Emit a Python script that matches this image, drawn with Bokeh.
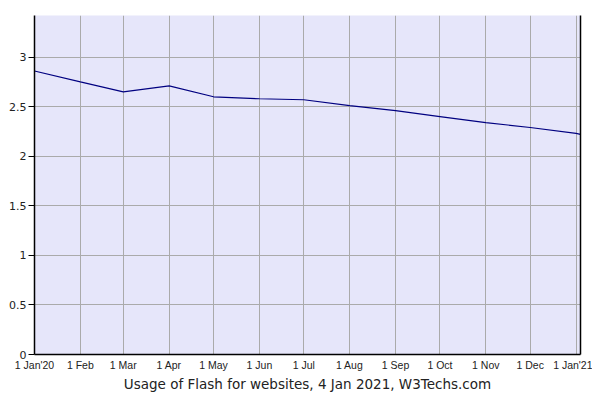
from datetime import datetime
from bokeh.plotting import figure
from bokeh.models import FixedTicker, LinearAxis, Range1d, ColumnDataSource, Title
from bokeh.embed import file_html
from bokeh.resources import INLINE

dates = ["2020-01-01", "2020-02-01", "2020-03-01", "2020-04-01", "2020-05-01",
         "2020-06-01", "2020-07-01", "2020-08-01", "2020-09-01", "2020-10-01",
         "2020-11-01", "2020-12-01", "2021-01-01", "2021-01-04"]
usage = [2.86, 2.75, 2.65, 2.71, 2.60, 2.58, 2.57, 2.51, 2.46, 2.40,
         2.34, 2.29, 2.23, 2.22]
tick_dates = ["2020-01-01", "2020-02-01", "2020-03-01", "2020-04-01", "2020-05-01",
              "2020-06-01", "2020-07-01", "2020-08-01", "2020-09-01", "2020-10-01",
              "2020-11-01", "2020-12-01", "2021-01-01"]
tick_labels = ["1 Jan'20", "1 Feb", "1 Mar", "1 Apr", "1 May", "1 Jun", "1 Jul",
               "1 Aug", "1 Sep", "1 Oct", "1 Nov", "1 Dec", "1 Jan'21"]
y_ticks = [0, 0.5, 1, 1.5, 2, 2.5, 3]
y_labels = ["0", "0.5", "1", "1.5", "2", "2.5", "3"]
title_text = "Usage of Flash for websites, 4 Jan 2021, W3Techs.com"


def ms(s):
    return datetime.strptime(s, "%Y-%m-%d").timestamp() * 1000.0


xs = [ms(d) for d in dates]
xt = [ms(d) for d in tick_dates]
x0, x1 = ms("2020-01-01"), ms("2021-01-04")
y0, y1 = 0, 3.42

src = ColumnDataSource(dict(x=xs, y=usage))

p = figure(width=592, height=392, output_backend="svg", toolbar_location=None,
           x_range=Range1d(x0, x1), y_range=Range1d(y0, y1),
           min_border_left=34, min_border_right=12, min_border_top=15,
           min_border_bottom=38)
p.background_fill_color = "#e6e6fa"
p.border_fill_color = "white"
p.outline_line_color = None

p.line("x", "y", source=src, line_color="#000080", line_width=1.2)

xa = p.xaxis[0]
xa.ticker = FixedTicker(ticks=xt)
xa.major_label_overrides = {t: l for t, l in zip(xt, tick_labels)}
xa.major_tick_line_color = None
xa.major_tick_out = 0
xa.major_tick_in = 0
xa.minor_tick_line_color = None
xa.axis_line_color = "black"
xa.axis_line_width = 1.5
xa.major_label_text_font = "Liberation Sans"
xa.major_label_text_font_size = "10.5px"
xa.major_label_text_color = "#222222"
xa.major_label_standoff = 4

ya = p.yaxis[0]
ya.ticker = FixedTicker(ticks=y_ticks)
ya.major_label_overrides = {t: l for t, l in zip(y_ticks, y_labels)}
ya.major_tick_out = 6
ya.major_tick_in = 0
ya.major_tick_line_color = "black"
ya.minor_tick_line_color = None
ya.axis_line_color = "black"
ya.axis_line_width = 1.5
ya.major_label_text_font = "DejaVu Sans"
ya.major_label_text_font_size = "11px"
ya.major_label_text_color = "#222222"
ya.major_label_standoff = 2

ra = LinearAxis(ticker=FixedTicker(ticks=[]), axis_line_color="black",
                axis_line_width=1.5, major_tick_line_color=None,
                minor_tick_line_color=None, major_label_text_font_size="0px")
p.add_layout(ra, "right")

p.xgrid.ticker = FixedTicker(ticks=xt)
p.ygrid.ticker = FixedTicker(ticks=y_ticks)
p.xgrid.grid_line_color = "#aaaaaa"
p.ygrid.grid_line_color = "#aaaaaa"

t = Title(text=title_text, align="center", text_font="DejaVu Sans",
          text_font_size="13.5px", text_font_style="normal",
          text_color="#222222", standoff=0, offset=0)
p.add_layout(t, "below")

open("out.html", "w").write(file_html(p, INLINE))
